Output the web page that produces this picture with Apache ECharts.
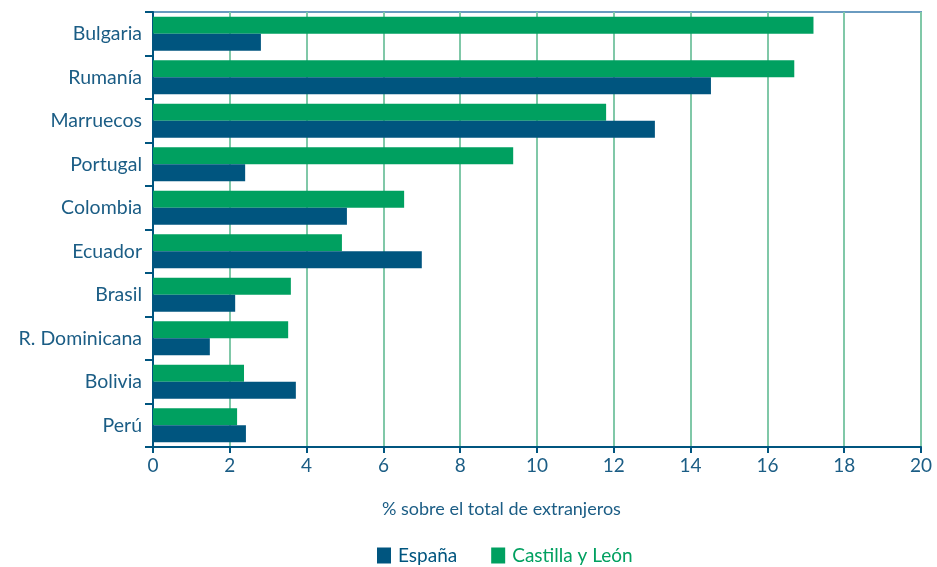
<!DOCTYPE html>
<html>
<head>
<meta charset="utf-8">
<script src="https://cdn.jsdelivr.net/npm/echarts@6/dist/echarts.min.js"></script>
<style>
  html, body { margin: 0; padding: 0; background: #fff; }
  #chart { width: 937px; height: 567px; }
</style>
</head>
<body>
<div id="chart"></div>
<script>
const countries = ['Bulgaria', 'Rumanía', 'Marruecos', 'Portugal', 'Colombia',
  'Ecuador', 'Brasil', 'R. Dominicana', 'Bolivia', 'Perú'];
const castillaLeon = [17.2, 16.7, 11.8, 9.38, 6.54, 4.92, 3.59, 3.52, 2.37, 2.19];
const espana = [2.81, 14.53, 13.07, 2.4, 5.05, 7.0, 2.14, 1.48, 3.72, 2.42];
const xTicks = [0, 2, 4, 6, 8, 10, 12, 14, 16, 18, 20];

const textBlue = '#1b5d85';
const darkBlue = '#00557f';
const green = '#00a060';
const font = 'Lato';

const chart = echarts.init(document.getElementById('chart'));
chart.setOption({
  animation: false,
  title: {
    text: '% sobre el total de extranjeros',
    left: 377,
    top: 495,
    textStyle: { color: textBlue, fontFamily: font, fontSize: 18, fontWeight: 'normal' }
  },
  legend: {
    left: 372,
    top: 541,
    icon: 'rect',
    itemWidth: 14,
    itemHeight: 16,
    itemGap: 34,
    data: [
      { name: 'España', textStyle: { color: darkBlue } },
      { name: 'Castilla y León', textStyle: { color: green } }
    ],
    textStyle: { fontFamily: font, fontSize: 19, padding: [0, 0, 0, 2] }
  },
  grid: {
    left: 153,
    right: 16,
    top: 12,
    bottom: 120,
    show: true,
    borderColor: '#6a9bc0',
    borderWidth: 2
  },
  xAxis: {
    type: 'value',
    min: xTicks[0],
    max: xTicks[xTicks.length - 1],
    interval: 2,
    axisLine: { show: true, lineStyle: { color: darkBlue, width: 2 } },
    axisTick: { show: true, length: 6, lineStyle: { color: darkBlue, width: 2 } },
    axisLabel: { color: textBlue, fontFamily: font, fontSize: 19, margin: 9 },
    splitLine: { show: true, lineStyle: { color: '#80c8a8', width: 2 } }
  },
  yAxis: {
    type: 'category',
    inverse: true,
    data: countries,
    axisLine: { show: true, lineStyle: { color: darkBlue, width: 2 } },
    axisTick: { show: true, length: 8, lineStyle: { color: darkBlue, width: 2 } },
    axisLabel: { color: textBlue, fontFamily: font, fontSize: 19.5, margin: 11 }
  },
  series: [
    {
      name: 'Castilla y León',
      type: 'bar',
      data: castillaLeon,
      itemStyle: { color: green },
      barGap: '0%',
      barCategoryGap: '22%'
    },
    {
      name: 'España',
      type: 'bar',
      data: espana,
      itemStyle: { color: darkBlue },
      barGap: '0%',
      barCategoryGap: '22%'
    }
  ]
});
</script>
</body>
</html>
